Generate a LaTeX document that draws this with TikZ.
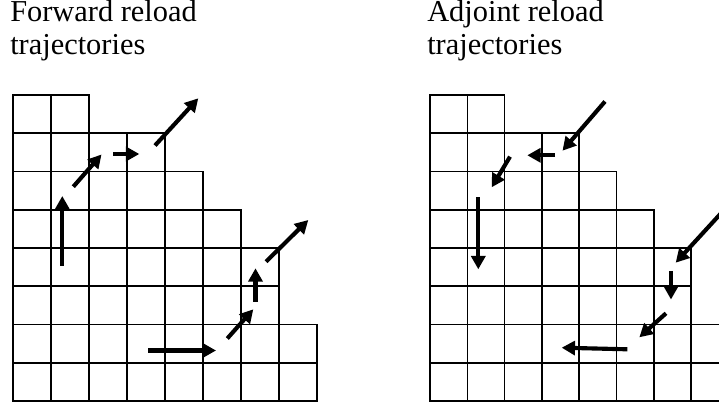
\documentclass[tikz,border=0pt]{standalone}
\usepackage{fontspec}
\setmainfont{Liberation Serif}
\usetikzlibrary{arrows.meta}
\begin{document}
\begin{tikzpicture}[x=0.75pt,y=-0.75pt,
  gridline/.style={line width=1.2pt, line cap=rect},
  traj/.style={line width=3.1pt, -{Triangle[length=10pt,width=10.5pt]}},
  title/.style={anchor=base west, inner sep=0pt, align=left,
    font=\fontsize{22.8pt}{24.75pt}\selectfont}]
\clip (0,0) rectangle (719,406);
% titles (anchor at baseline of the last line)
\node[title] (tf) at (10,55) {Forward reload\\trajectories};
\node[title] (ta) at (427,55) {Adjoint reload\\trajectories};
% staircase grids
\foreach \gx/\cw in {13/38, 430/37.3}{
  \begin{scope}[shift={(\gx,95)}]
    \foreach \k/\w in {0/2,1/4,2/5,3/6,4/7,5/7,6/8,7/8,8/8}
      \draw[gridline] (0,\k*38.25) -- (\w*\cw,\k*38.25);
    \foreach \c/\r in {0/0,1/0,2/0,3/1,4/1,5/2,6/3,7/4,8/6}
      \draw[gridline] (\c*\cw,\r*38.25) -- (\c*\cw,8*38.25);
  \end{scope}
}
% forward trajectories
\coordinate (f1s) at (62.3,265.7);  \coordinate (f1e) at (62.3,196);
\coordinate (f2s) at (73.3,186.7);  \coordinate (f2e) at (101.5,154.5);
\coordinate (f3s) at (113.3,154);   \coordinate (f3e) at (139.3,154);
\coordinate (f4s) at (155,145.5);   \coordinate (f4e) at (198.3,98.3);
\coordinate (f5s) at (148.3,350.5); \coordinate (f5e) at (216,350.5);
\coordinate (f6s) at (227.3,338.5); \coordinate (f6e) at (253.3,309.3);
\coordinate (f7s) at (255.5,301.7); \coordinate (f7e) at (255.5,268.3);
\coordinate (f8s) at (266,261.7);   \coordinate (f8e) at (308.3,220);
\foreach \i in {1,...,8} \draw[traj] (f\i s) -- (f\i e);
% adjoint trajectories
\coordinate (a1s) at (605,101.5);   \coordinate (a1e) at (562.5,150.7);
\coordinate (a2s) at (555,155.3);   \coordinate (a2e) at (527.3,155.3);
\coordinate (a3s) at (510,156.7);   \coordinate (a3e) at (491.7,187.3);
\coordinate (a4s) at (478.3,197.3); \coordinate (a4e) at (478.3,269.3);
\coordinate (a5s) at (724,210);     \coordinate (a5e) at (675.7,262.7);
\coordinate (a6s) at (671,271);     \coordinate (a6e) at (671,299.5);
\coordinate (a7s) at (666,313.3);   \coordinate (a7e) at (639.3,337.3);
\coordinate (a8s) at (627.3,349.3); \coordinate (a8e) at (561.7,347.7);
\foreach \i in {1,...,8} \draw[traj] (a\i s) -- (a\i e);
\end{tikzpicture}
\end{document}
